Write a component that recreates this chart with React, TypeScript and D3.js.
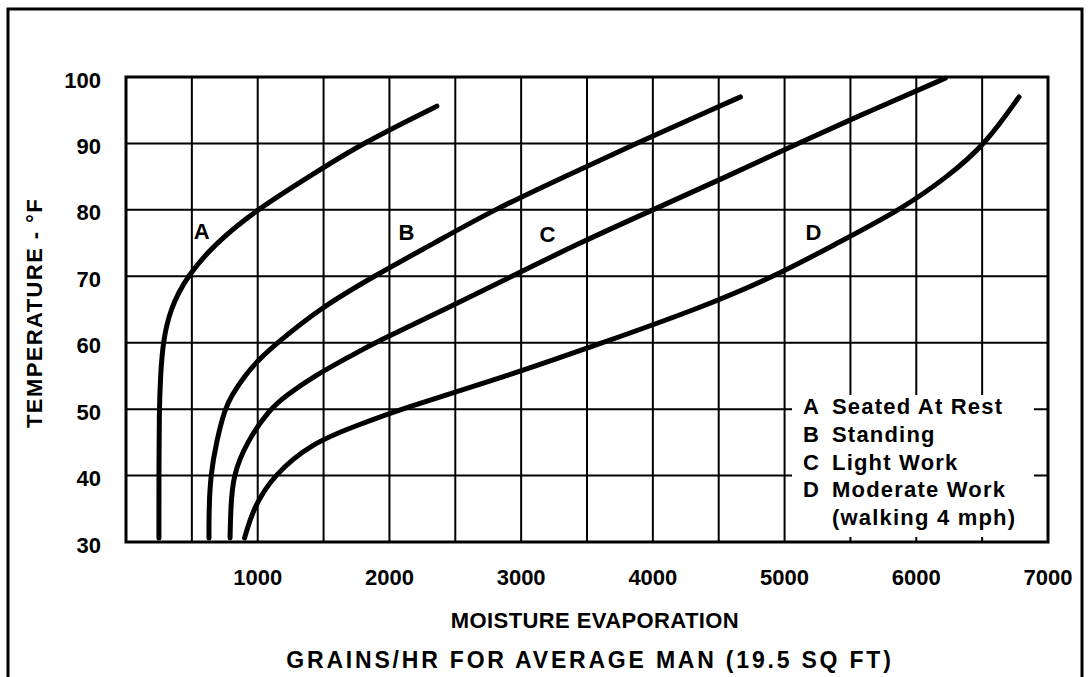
import React from 'react';
import * as d3 from 'd3';

// grains/hr vs temperature (°F)
const curveA = [[250, 30.6], [250, 40], [252, 50], [262, 55], [280, 60], [333, 65], [462, 70], [680, 75], [990, 80], [1390, 85], [1790, 90], [2360, 95.6]];
const curveB = [[630, 30.6], [630, 35], [642, 40], [685, 45], [750, 50], [800, 52], [900, 55], [1010, 57.5], [1150, 60], [1460, 65], [1880, 70], [2340, 75], [2790, 80], [3330, 85], [3870, 90], [4440, 95], [4665, 97]];
const curveC = [[790, 30.6], [795, 35], [812, 40], [915, 45], [1090, 50], [1220, 52.1], [1430, 55], [1697, 57.9], [1886, 60], [2420, 65], [2930, 70], [3440, 75], [4000, 80], [4560, 85], [5100, 90], [5660, 95], [6220, 99.8]];
const curveD = [[900, 30.6], [965, 35], [1115, 40], [1420, 45], [1750, 47.5], [2080, 50], [2900, 55], [3620, 60], [4330, 65], [4930, 70], [5400, 75], [5880, 80], [6240, 85], [6530, 90], [6780, 97]];

const curves = [curveA, curveB, curveC, curveD];
const curveLetters = ['A', 'B', 'C', 'D'];
// where each letter sits (grains, temp)
const letterPos = [[575, 76.7], [2130, 76.6], [3200, 76.3], [5220, 76.6]];

const xTicks = [1000, 2000, 3000, 4000, 5000, 6000, 7000];
const yTicks = [30, 40, 50, 60, 70, 80, 90, 100];
const xGrid = d3.range(500, 7000, 500);
const yGrid = d3.range(40, 100, 10);

const legendLetters = ['A', 'B', 'C', 'D', ''];
const legendText = ['Seated At Rest', 'Standing', 'Light Work', 'Moderate Work', '(walking 4 mph)'];

const font = '"Liberation Sans", Arial, Helvetica, sans-serif';

const App = () => {
  const width = 1090;
  const height = 677;

  const x = d3.scaleLinear().domain([0, 7000]).range([126, 1048]);
  const y = d3.scaleLinear().domain([30, 100]).range([542, 77]);

  const line = d3.line()
    .x(d => x(d[0]))
    .y(d => y(d[1]))
    .curve(d3.curveBasis);

  // legend box (hides the grid under it)
  const lgX0 = 792, lgX1 = 1034, lgY0 = 395, lgY1 = 537;

  return (
    <svg width={width} height={height} style={{ position: 'absolute', left: 0, top: 0, background: '#fff' }}
      fontFamily={font} fontWeight="bold" fontSize={22}>
      <rect x={0} y={0} width={width} height={height} fill="#fff" />
      {/* outer frame */}
      <rect x={8} y={9} width={1074} height={700} fill="none" stroke="#000" strokeWidth={3} />

      <g stroke="#000" strokeWidth={2}>
        {xGrid.map(v => <line key={'xg' + v} x1={x(v)} x2={x(v)} y1={y(30)} y2={y(100)} />)}
        {yGrid.map(v => <line key={'yg' + v} x1={x(0)} x2={x(7000)} y1={y(v)} y2={y(v)} />)}
      </g>

      <rect x={lgX0} y={lgY0} width={lgX1 - lgX0} height={lgY1 - lgY0} fill="#fff" />

      <rect x={x(0)} y={y(100)} width={x(7000) - x(0)} height={y(30) - y(100)} fill="none" stroke="#000" strokeWidth={3} />

      <g fill="none" stroke="#000" strokeWidth={5} strokeLinecap="round" strokeLinejoin="round">
        {curves.map((c, i) => <path key={'c' + i} d={line(c)} />)}
      </g>

      {curveLetters.map((l, i) => (
        <text key={'l' + l} x={x(letterPos[i][0])} y={y(letterPos[i][1])} textAnchor="middle" dominantBaseline="central">{l}</text>
      ))}

      {legendText.map((t, i) => (
        <g key={'lg' + i} letterSpacing={1.2}>
          <text x={803} y={414 + i * 27.8}>{legendLetters[i]}</text>
          <text x={832} y={414 + i * 27.8}>{t}</text>
        </g>
      ))}

      {yTicks.map(v => (
        <text key={'yt' + v} x={101} y={y(v) + 3} textAnchor="end" dominantBaseline="central">{v}</text>
      ))}
      {xTicks.map(v => (
        <text key={'xt' + v} x={x(v)} y={577} textAnchor="middle" dominantBaseline="central">{v}</text>
      ))}

      <text x={595} y={620} textAnchor="middle" dominantBaseline="central" letterSpacing={0.4}>MOISTURE EVAPORATION</text>
      <text x={590} y={660} textAnchor="middle" dominantBaseline="central" letterSpacing={2.8} fontSize={23}>GRAINS/HR FOR AVERAGE MAN (19.5 SQ FT)</text>
      <text transform="translate(34,313) rotate(-90)" textAnchor="middle" dominantBaseline="central" letterSpacing={1.4}>TEMPERATURE - °F</text>
    </svg>
  );
};

export default App;
